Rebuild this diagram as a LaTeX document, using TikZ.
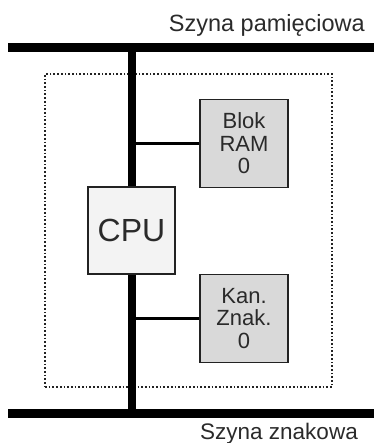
\documentclass[tikz,border=0pt]{standalone}
\usepackage{fontspec}
\setmainfont{Liberation Sans}
\definecolor{ink}{HTML}{222222}
\definecolor{txt}{HTML}{2A2A2A}
\definecolor{ramfill}{HTML}{D9D9D9}
\definecolor{cpufill}{HTML}{F3F3F3}
\begin{document}
\begin{tikzpicture}[x=1pt,y=-1pt,
  bus/.style={line width=9pt, draw=black},
  vbus/.style={line width=8pt, draw=black},
  link/.style={line width=3pt, draw=black},
  unitbox/.style={draw=ink, line width=1.8pt, fill=ramfill, inner sep=0pt,
     minimum width=88pt, minimum height=88pt, align=center, text=txt,
     font=\fontsize{22}{22.5}\selectfont},
  cpubox/.style={unitbox, fill=cpufill, minimum width=87pt, minimum height=87pt,
     font=\fontsize{32}{34}\selectfont},
  buslabel/.style={text=txt, inner sep=0pt}]
\useasboundingbox (0,0) rectangle (374,443);
% dotted frame
\node[draw=ink, dotted, line width=1.7pt, minimum width=287pt, minimum height=313pt, inner sep=0pt] (frame) at (188.5,230.5) {};
% buses
\coordinate (tl) at (8,48);
\coordinate (tr) at (374,48);
\coordinate (bl) at (8,413);
\coordinate (br) at (374,413);
\coordinate (tv) at (132,48);
\coordinate (bv) at (132,413);
\draw[bus] (tl) -- (tr);
\draw[bus] (bl) -- (br);
\draw[vbus] (tv) -- (bv);
% units
\node[unitbox] (ram) at (244,143.5) {Blok\\RAM\\0};
\node[unitbox] (kan) at (244,318.5) {Kan.\\Znak.\\0};
\node[cpubox] (cpu) at (131.5,230.5) {CPU};
\draw[link] (tv |- ram.west) -- (ram.west);
\draw[link] (tv |- kan.west) -- (kan.west);
% labels
\node[buslabel, anchor=base east, font=\fontsize{23.5}{25}\selectfont] (lt) at (365,32) {Szyna pamięciowa};
\node[buslabel, anchor=base east, font=\fontsize{22.5}{24}\selectfont] (lb) at (358,439) {Szyna znakowa};
\end{tikzpicture}
\end{document}
